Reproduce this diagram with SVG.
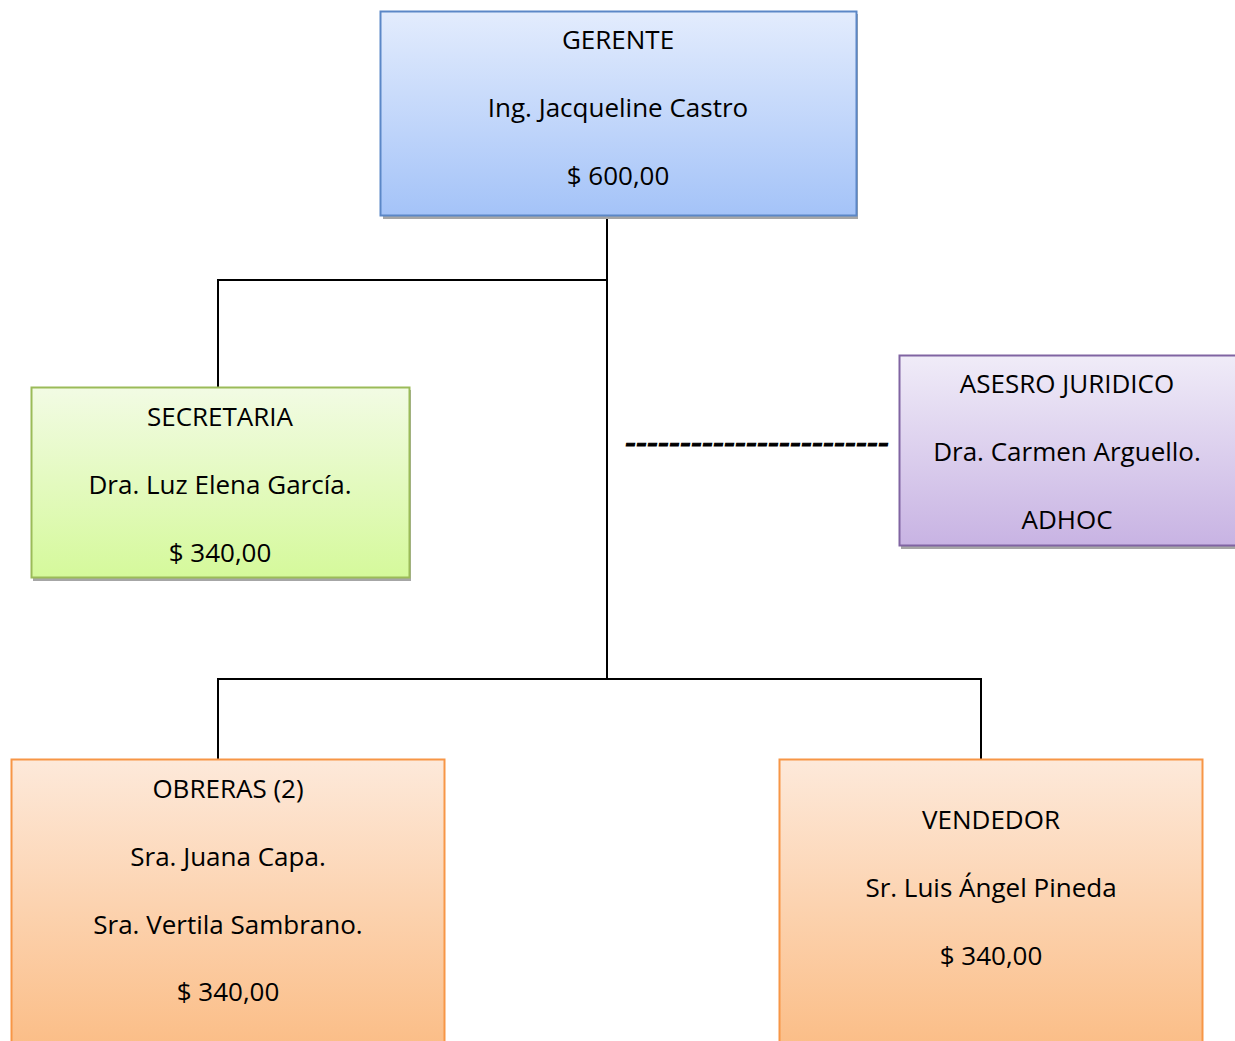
<svg xmlns="http://www.w3.org/2000/svg" width="1235" height="1041" viewBox="0 0 1235 1041">
  <style>
    .lbl { font-family: "Open Sans", Lato, "Liberation Sans", sans-serif; font-size: 26px; fill: #000; text-anchor: middle; }
    .wire { stroke: #000; stroke-width: 2; fill: none; }
    .shadow { fill: #a6a6a6; }
    .dash { font-family: Lato, "Liberation Sans", sans-serif; font-size: 24px; font-weight: 900; font-style: italic; fill: #000; stroke: #000; stroke-width: 1; }
  </style>
  <defs>
    <linearGradient id="gBlue" x1="0" y1="0" x2="0" y2="1">
      <stop offset="0" stop-color="#e3ecfd"/>
      <stop offset="1" stop-color="#a4c3f8"/>
    </linearGradient>
    <linearGradient id="gGreen" x1="0" y1="0" x2="0" y2="1">
      <stop offset="0" stop-color="#f2fbe4"/>
      <stop offset="1" stop-color="#d5f99b"/>
    </linearGradient>
    <linearGradient id="gPurple" x1="0" y1="0" x2="0" y2="1">
      <stop offset="0" stop-color="#f0ecf8"/>
      <stop offset="1" stop-color="#c8b3e3"/>
    </linearGradient>
    <linearGradient id="gOrange" x1="0" y1="0" x2="0" y2="1">
      <stop offset="0" stop-color="#fde9da"/>
      <stop offset="1" stop-color="#fbbd86"/>
    </linearGradient>
  </defs>

  <g id="connectors">
    <path class="wire" d="M607 216 V679"/>
    <path class="wire" d="M607 280 H218 V388"/>
    <path class="wire" d="M218 759 V679 H981 V759"/>
    <text class="dash" x="625" y="452" textLength="264" lengthAdjust="spacingAndGlyphs">------------------------</text>
  </g>

  <g id="gerente">
    <rect class="shadow" x="383" y="14" width="475" height="205"/>
    <rect x="380.5" y="11.5" width="476" height="204" fill="url(#gBlue)" stroke="#5b87c7" stroke-width="2"/>
    <text class="lbl" x="618" y="49">GERENTE</text>
    <text class="lbl" x="618" y="117">Ing. Jacqueline Castro</text>
    <text class="lbl" x="618" y="185">$ 600,00</text>
  </g>

  <g id="secretaria">
    <rect class="shadow" x="33" y="390" width="378" height="191"/>
    <rect x="31.5" y="387.5" width="378" height="190" fill="url(#gGreen)" stroke="#9bbb59" stroke-width="2"/>
    <text class="lbl" x="220" y="426">SECRETARIA</text>
    <text class="lbl" x="220" y="494">Dra. Luz Elena García.</text>
    <text class="lbl" x="220" y="562">$ 340,00</text>
  </g>

  <g id="asesor">
    <rect class="shadow" x="901" y="358" width="334" height="191"/>
    <rect x="899.5" y="355.5" width="338" height="190" fill="url(#gPurple)" stroke="#8064a2" stroke-width="2"/>
    <text class="lbl" x="1067" y="393">ASESRO JURIDICO</text>
    <text class="lbl" x="1067" y="461">Dra. Carmen Arguello.</text>
    <text class="lbl" x="1067" y="529">ADHOC</text>
  </g>

  <g id="obreras">
    <rect x="11.5" y="759.5" width="433" height="290" fill="url(#gOrange)" stroke="#f79646" stroke-width="2"/>
    <text class="lbl" x="228" y="798">OBRERAS (2)</text>
    <text class="lbl" x="228" y="866">Sra. Juana Capa.</text>
    <text class="lbl" x="228" y="934">Sra. Vertila Sambrano.</text>
    <text class="lbl" x="228" y="1001">$ 340,00</text>
  </g>

  <g id="vendedor">
    <rect x="779.5" y="759.5" width="423" height="290" fill="url(#gOrange)" stroke="#f79646" stroke-width="2"/>
    <text class="lbl" x="991" y="829">VENDEDOR</text>
    <text class="lbl" x="991" y="897">Sr. Luis Ángel Pineda</text>
    <text class="lbl" x="991" y="965">$ 340,00</text>
  </g>
</svg>
